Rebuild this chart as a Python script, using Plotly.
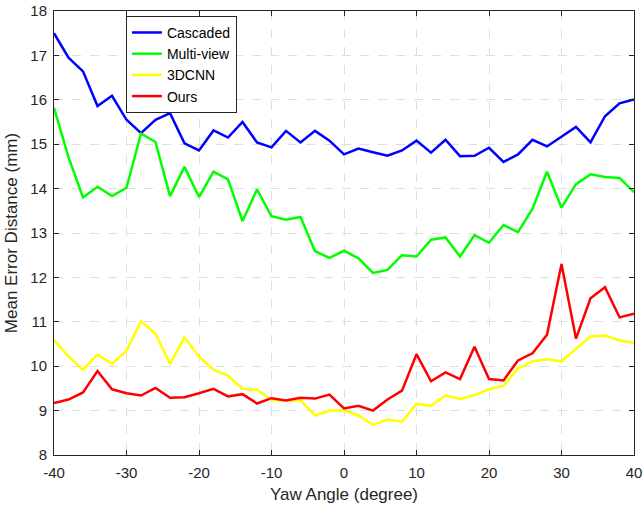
import plotly.graph_objects as go

yaw = list(range(-40, 42, 2))

cascaded = [17.5, 16.95, 16.64, 15.86, 16.09, 15.55, 15.25, 15.55, 15.7, 15.02, 14.86,
            15.31, 15.15, 15.5, 15.04, 14.93, 15.3, 15.04, 15.3, 15.08, 14.77,
            14.9, 14.82, 14.74, 14.86, 15.08, 14.81, 15.1, 14.73, 14.74, 14.92,
            14.6, 14.77, 15.1, 14.95, 15.17, 15.39, 15.04, 15.63, 15.92, 16.01]
multiview = [15.82, 14.71, 13.8, 14.04, 13.83, 14.02, 15.24, 15.05, 13.83, 14.49, 13.81,
             14.38, 14.21, 13.27, 13.98, 13.38, 13.3, 13.36, 12.59, 12.44, 12.6,
             12.43, 12.1, 12.17, 12.5, 12.47, 12.85, 12.9, 12.47, 12.95, 12.78,
             13.18, 13.02, 13.55, 14.38, 13.57, 14.1, 14.32, 14.26, 14.24, 13.92]
cnn3d = [10.59, 10.22, 9.92, 10.26, 10.05, 10.35, 11.01, 10.73, 10.05, 10.65, 10.22,
         9.92, 9.79, 9.49, 9.47, 9.24, 9.23, 9.23, 8.89, 9.0, 9.01,
         8.89, 8.68, 8.8, 8.75, 9.15, 9.11, 9.34, 9.26, 9.35, 9.48,
         9.56, 9.95, 10.11, 10.15, 10.11, 10.39, 10.67, 10.69, 10.58, 10.53]
ours = [9.17, 9.25, 9.41, 9.89, 9.48, 9.39, 9.34, 9.51, 9.29, 9.3, 9.39,
        9.49, 9.32, 9.37, 9.16, 9.28, 9.23, 9.29, 9.27, 9.36, 9.05,
        9.11, 9.0, 9.25, 9.45, 10.27, 9.66, 9.86, 9.71, 10.44, 9.71,
        9.68, 10.13, 10.29, 10.71, 12.3, 10.62, 11.53, 11.78, 11.1, 11.18]

x_ticks = [-40, -30, -20, -10, 0, 10, 20, 30, 40]
x_ticklabels = ["-40", "-30", "-20", "-10", "0", "10", "20", "30", "40"]
y_ticks = [8, 9, 10, 11, 12, 13, 14, 15, 16, 17, 18]

series = [("Cascaded", cascaded, "#0000ff"),
          ("Multi-view", multiview, "#00ff00"),
          ("3DCNN", cnn3d, "#ffff00"),
          ("Ours", ours, "#ff0000")]

fig = go.Figure()
for name, vals, col in series:
    fig.add_trace(go.Scatter(x=yaw, y=vals, mode="lines", name=name,
                             line=dict(color=col, width=2.5)))

axis_common = dict(showline=True, linecolor="#262626", linewidth=1, mirror="ticks",
                   ticks="inside", ticklen=5, tickcolor="#262626", automargin=False,
                   showgrid=True, gridcolor="#dedede", griddash="dash", gridwidth=1,
                   zeroline=False, tickfont=dict(size=15, color="#262626"))

fig.update_layout(
    width=643, height=510,
    margin=dict(l=54, r=9, t=11, b=55),
    paper_bgcolor="white", plot_bgcolor="white",
    font=dict(family="Liberation Sans, Arial, sans-serif", color="#262626"),
    xaxis=dict(range=[-40, 40], tickvals=x_ticks, ticktext=x_ticklabels,
               ticklabelstandoff=4,
               title=dict(text="Yaw Angle (degree)", font=dict(size=17), standoff=8),
               **axis_common),
    yaxis=dict(range=[8, 18], tickvals=y_ticks, ticklabelstandoff=3,
               title=dict(text="Mean Error Distance (mm)", font=dict(size=17), standoff=8),
               **axis_common),
    legend=dict(x=0.124, y=0.989, xanchor="left", yanchor="top",
                bgcolor="white", bordercolor="#262626", borderwidth=1,
                font=dict(size=14, color="black"), itemwidth=30),
    showlegend=True,
)

fig.write_html("out.html")
